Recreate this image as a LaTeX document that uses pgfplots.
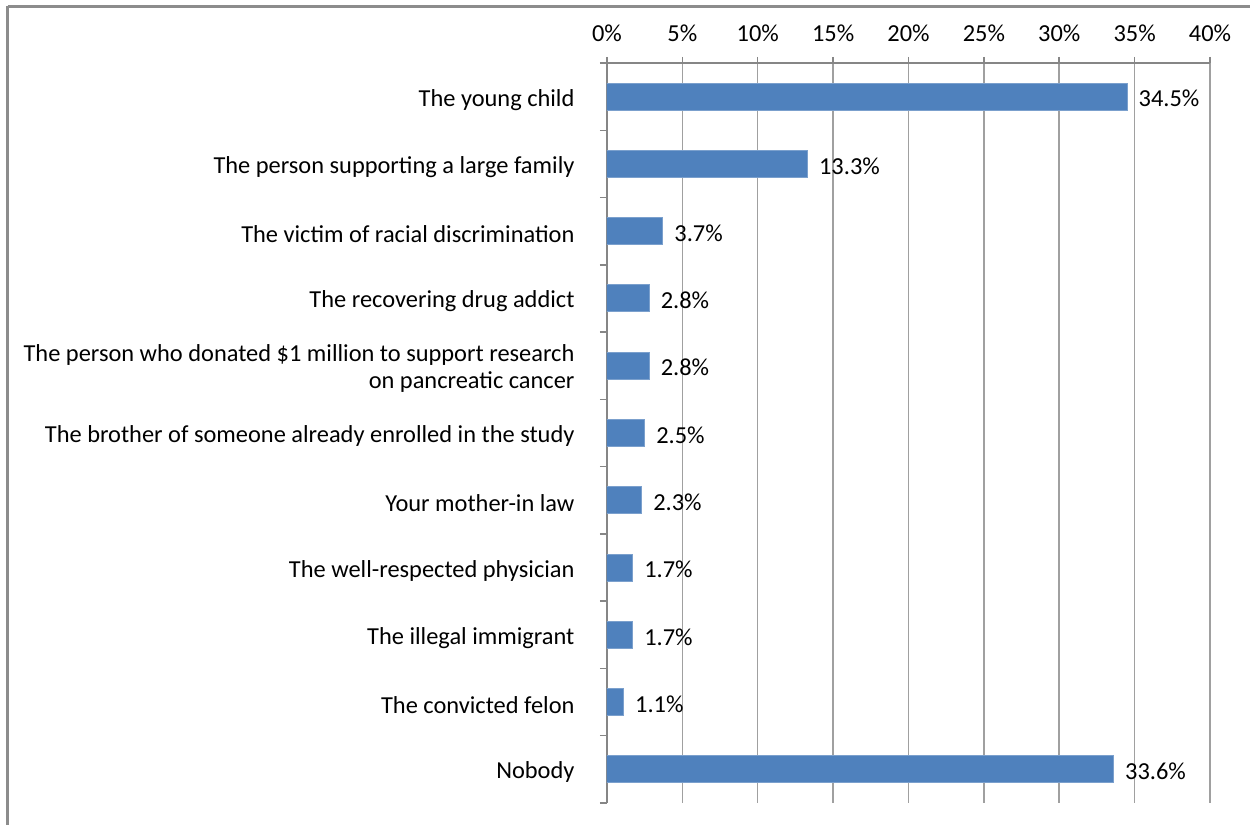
\documentclass[border=0pt]{standalone}
\usepackage{fontspec}
\setmainfont{Carlito}
\usepackage{pgfplots}
\pgfplotsset{compat=1.18}
\definecolor{barblue}{HTML}{4F81BD}
\definecolor{gridgray}{HTML}{A0A0A0}
\definecolor{axgray}{HTML}{868686}
\definecolor{framegray}{HTML}{8C8C8C}
\begin{document}
\fontsize{12.2}{13.5}\selectfont
\begin{tikzpicture}
\useasboundingbox (0,0) rectangle (625pt,412.5pt);
\draw[framegray, line width=1.1pt] (3.75pt,409.25pt) -- (625pt,409.25pt);
\draw[framegray, line width=1.1pt] (3.75pt,0pt) -- (3.75pt,409.25pt);
\begin{axis}[
  at={(303.5pt,11pt)}, anchor=south west,
  scale only axis, width=301.5pt, height=370pt,
  xbar, bar width=13.5pt, bar shift=0pt,
  xmin=0, xmax=40, ymin=-0.5, ymax=10.5,
  axis x line*=top, axis y line*=left,
  axis line style={axgray, line width=0.75pt},
  /pgf/number format/assume math mode=true,
  xtick={0,5,...,40},
  xticklabel={\pgfmathprintnumber{\tick}\%},
  xmajorgrids, grid style={gridgray, line width=0.75pt},
  tick align=outside,
  major tick length=3pt,
  minor tick length=3.5pt,
  x tick style={axgray, line width=0.75pt},
  ytick={0,...,10},
  y tick style={draw=none},
  minor ytick={-0.5,0.5,...,10.5},
  minor y tick style={draw=axgray, line width=0.75pt},
  yticklabels={
    Nobody,
    The convicted felon,
    The illegal immigrant,
    The well-respected physician,
    Your mother-in law,
    The brother of someone already enrolled in the study,
    {The person who donated \$1 million to support research\\on pancreatic cancer},
    The recovering drug addict,
    The victim of racial discrimination,
    The person supporting a large family,
    The young child},
  yticklabel style={align=right, xshift=-9pt, yshift=-1.5pt, font=\fontsize{12.2}{13.5}\selectfont},
  xticklabel style={yshift=3.5pt, font=\fontsize{12.2}{13.5}\selectfont},
  point meta=x,
  nodes near coords={\pgfmathprintnumber[fixed,fixed zerofill,precision=1]{\pgfplotspointmeta}\%},
  every node near coord/.append style={anchor=west, xshift=1.5pt, yshift=-1pt, font=\fontsize{12.2}{13.5}\selectfont, black},
]
\addplot[fill=barblue, draw=barblue!75!white, line width=0.5pt] coordinates {
  (33.6,0) (1.1,1) (1.7,2) (1.7,3) (2.3,4) (2.5,5) (2.8,6) (2.8,7) (3.7,8) (13.3,9) (34.5,10)
};
\end{axis}
\end{tikzpicture}
\end{document}
